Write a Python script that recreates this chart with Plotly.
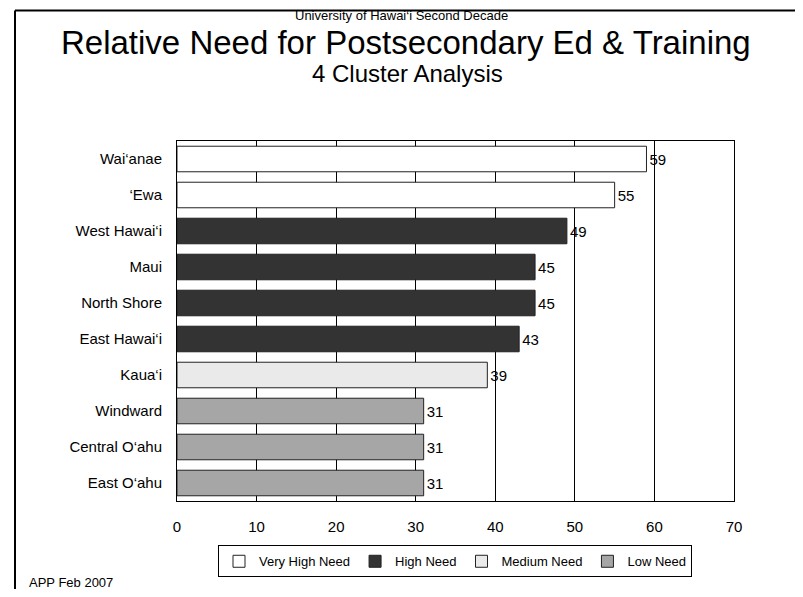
import plotly.graph_objects as go

regions = ["Wai‘anae", "‘Ewa", "West Hawai‘i", "Maui", "North Shore",
           "East Hawai‘i", "Kaua‘i", "Windward", "Central O‘ahu", "East O‘ahu"]
values = [59, 55, 49, 45, 45, 43, 39, 31, 31, 31]
clusters = ["Very High Need", "Very High Need", "High Need", "High Need", "High Need",
            "High Need", "Medium Need", "Low Need", "Low Need", "Low Need"]
cluster_names = ["Very High Need", "High Need", "Medium Need", "Low Need"]
cluster_colors = ["#ffffff", "#333333", "#eaeaea", "#a6a6a6"]
x_ticks = [0, 10, 20, 30, 40, 50, 60, 70]

FONT = "Liberation Sans, Arial, sans-serif"
OFF = 8  # default page body margin
W, H = 803 - 2 * OFF, 597 - 2 * OFF
# plot area in window pixels
L, R, T, B = 177, 734, 141, 505

fig = go.Figure()
for name, col in zip(cluster_names, cluster_colors):
    ys = [r for r, c in zip(regions, clusters) if c == name]
    xs = [v for v, c in zip(values, clusters) if c == name]
    fig.add_trace(go.Bar(
        y=ys, x=xs, name=name, orientation="h",
        marker=dict(color=col, line=dict(color="#222222", width=1)),
        text=[str(v) for v in xs], textposition="outside",
        textfont=dict(family=FONT, size=15, color="black"),
        cliponaxis=False,
    ))

def px_x(p):
    return (p - L) / (R - L)

def px_y(p):
    return (B - p) / (B - T)

fig.update_layout(
    width=W, height=H,
    margin=dict(l=L - OFF, r=W - (R - OFF), t=T - OFF, b=H - (B - OFF), pad=0),
    paper_bgcolor="white", plot_bgcolor="white",
    barmode="relative", bargap=0.29,
    font=dict(family=FONT, size=15, color="black"),
    showlegend=True,
    legend=dict(orientation="h", x=px_x(455), y=px_y(566),
                xanchor="center", yanchor="middle",
                bordercolor="black", borderwidth=1,
                font=dict(family=FONT, size=13, color="black"),
                itemwidth=30, traceorder="normal",
                tracegroupgap=0, itemclick=False),
    xaxis=dict(range=[0, 70], tickvals=x_ticks, showgrid=True,
               gridcolor="black", gridwidth=1, zeroline=False,
               showline=True, linecolor="black", linewidth=1, mirror=True,
               ticks="", ticklabelstandoff=12,
               tickfont=dict(family=FONT, size=15), fixedrange=True),
    yaxis=dict(categoryorder="array", categoryarray=regions, autorange="reversed",
               showgrid=False, zeroline=False, showline=True, linecolor="black",
               linewidth=1, mirror=True, ticks="", ticklabelstandoff=11,
               tickfont=dict(family=FONT, size=15), fixedrange=True),
    annotations=[
        dict(text="University of Hawai‘i Second Decade", x=px_x(401), y=px_y(14),
             xref="paper", yref="paper", showarrow=False, xanchor="center", yanchor="middle",
             borderpad=0, font=dict(family=FONT, size=13)),
        dict(text="Relative Need for Postsecondary Ed & Training", x=px_x(406), y=px_y(41),
             xref="paper", yref="paper", showarrow=False, xanchor="center", yanchor="middle",
             borderpad=0, font=dict(family=FONT, size=33)),
        dict(text="4 Cluster Analysis", x=px_x(407), y=px_y(73),
             xref="paper", yref="paper", showarrow=False, xanchor="center", yanchor="middle",
             borderpad=0, font=dict(family=FONT, size=24)),
        dict(text="APP Feb 2007", x=px_x(27), y=px_y(587),
             xref="paper", yref="paper", showarrow=False, xanchor="left", yanchor="middle",
             font=dict(family=FONT, size=13)),
    ],
    shapes=[
        dict(type="line", xref="paper", yref="paper", x0=px_x(15), x1=px_x(15),
             y0=px_y(9), y1=px_y(620), line=dict(color="black", width=2)),
        dict(type="line", xref="paper", yref="paper", x0=px_x(15), x1=px_x(820),
             y0=px_y(9), y1=px_y(9), line=dict(color="black", width=2)),
    ],
)

fig.write_html("out.html", config={"displayModeBar": False})
